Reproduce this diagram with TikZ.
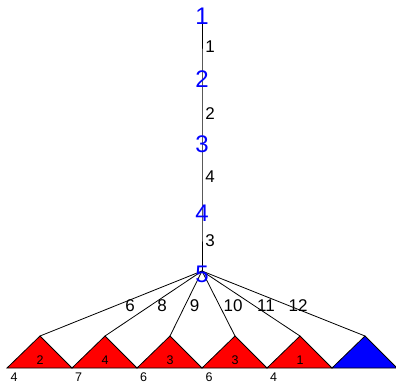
\documentclass[tikz,border=0pt]{standalone}
\usepackage{fontspec}
\setmainfont{Liberation Sans}
\begin{document}
\begin{tikzpicture}[x=1pt,y=-1pt,
  vnum/.style={text=blue,font=\fontsize{24}{24}\selectfont,inner sep=0pt},
  elab/.style={font=\fontsize{17}{17}\selectfont,inner sep=0pt},
  small/.style={font=\fontsize{12.5}{12.5}\selectfont,inner sep=0pt},
  edge/.style={draw=black,line width=0.8pt},
  tri/.style={draw=black,line width=0.8pt}]
\useasboundingbox (0,0) rectangle (396,384);
% vertical chain
\coordinate (n1) at (202,16.5);
\coordinate (n2) at (202,79.5);
\coordinate (n3) at (202,144);
\coordinate (n4) at (202,213);
\coordinate (n5) at (202,271);
\draw[edge] (n1) -- (n2) -- (n3) -- (n4) -- (n5);
% triangle apexes
\foreach \i/\x in {1/40,2/105,3/170,4/235,5/300,6/365}{
  \coordinate (t\i) at (\x,336);
  \coordinate (l\i) at (\x-33,368);
  \coordinate (r\i) at (\x+32,368);
}
\foreach \i in {1,...,5}{
  \fill[red] (l\i) -- (t\i) -- (r\i) -- cycle;
  \draw[tri] (l\i) -- (t\i) -- (r\i) -- cycle;
}
\fill[blue] (l6) -- (t6) -- (r6) -- cycle;
\draw[tri] (l6) -- (t6) -- (r6) -- cycle;
\foreach \i in {1,...,6}{ \draw[edge] (n5) -- (t\i); }
% vertex numbers
\node[vnum] (v1) at (202,16.5) {1};
\node[vnum] (v2) at (202,79.5) {2};
\node[vnum] (v3) at (202,144) {3};
\node[vnum] (v4) at (202,213) {4};
\node[vnum] (v5) at (202,274.5) {5};
% edge labels
\node[elab] (e1) at (210,46.5) {1};
\node[elab] (e2) at (210,113.5) {2};
\node[elab] (e3) at (210,176.5) {4};
\node[elab] (e4) at (210,240.5) {3};
\node[elab] (f1) at (130,305.5) {6};
\node[elab] (f2) at (162,305.5) {8};
\node[elab] (f3) at (194.5,305.5) {9};
\node[elab] (f4) at (233,305.5) {10};
\node[elab] (f5) at (266,305.5) {11};
\node[elab] (f6) at (298,305.5) {12};
% triangle labels
\node[small] (g1) at (40,360.5) {2};
\node[small] (g2) at (105,360.5) {4};
\node[small] (g3) at (170,360.5) {3};
\node[small] (g4) at (235,360.5) {3};
\node[small] (g5) at (300,360.5) {1};
% bottom labels
\node[small] (b1) at (14,377.5) {4};
\node[small] (b2) at (78.5,377.5) {7};
\node[small] (b3) at (143.5,377.5) {6};
\node[small] (b4) at (209,377.5) {6};
\node[small] (b5) at (273.5,377.5) {4};
\end{tikzpicture}
\end{document}
